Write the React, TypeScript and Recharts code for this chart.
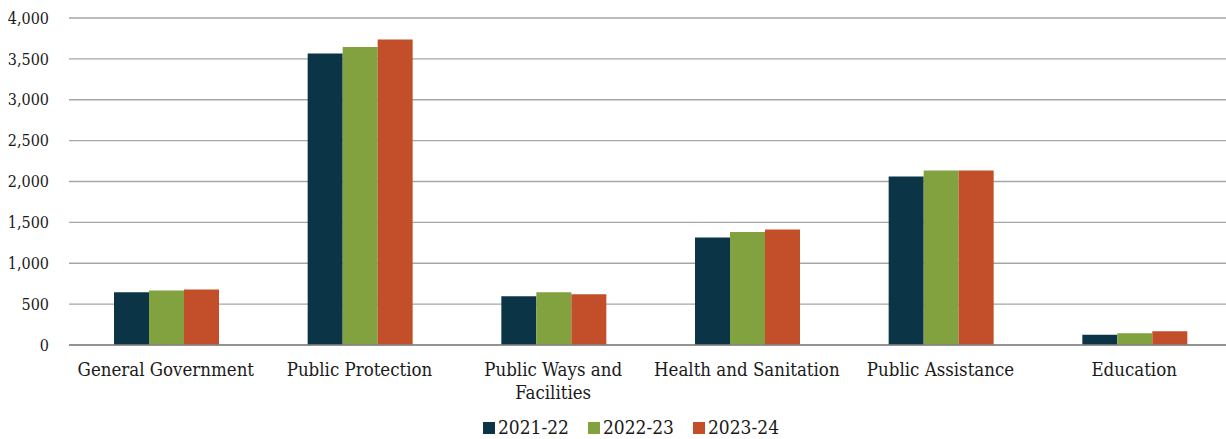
import React from "react";
import { BarChart, Bar, XAxis, YAxis, CartesianGrid, Legend } from "recharts";

const categories = [
  "General Government",
  "Public Protection",
  "Public Ways and Facilities",
  "Health and Sanitation",
  "Public Assistance",
  "Education",
];
const categoryLines = [
  ["General Government"],
  ["Public Protection"],
  ["Public Ways and", "Facilities"],
  ["Health and Sanitation"],
  ["Public Assistance"],
  ["Education"],
];
const fy2122 = [644, 3565, 595, 1316, 2062, 126];
const fy2223 = [668, 3646, 644, 1381, 2135, 143];
const fy2324 = [680, 3736, 620, 1414, 2135, 167];
const yTicks = [0, 500, 1000, 1500, 2000, 2500, 3000, 3500, 4000];
const seriesNames = ["2021-22", "2022-23", "2023-24"];
const colors = ["#0C3447", "#81A23F", "#C24F29"];

const data = categories.map((c, i) => ({
  name: c,
  a: fy2122[i],
  b: fy2223[i],
  c: fy2324[i],
}));

const XTick = (props: any) => {
  const { x, y, payload } = props;
  const idx = categories.indexOf(payload.value);
  const lines = idx >= 0 ? categoryLines[idx] : [payload.value];
  return (
    <text x={x} y={y + 23} textAnchor="middle" fontFamily="DejaVu Serif Condensed" fontSize={18.5} fill="#1a1a1a">
      {lines.map((l: string, i: number) => (
        <tspan key={i} x={x} dy={i === 0 ? 0 : 23}>
          {l}
        </tspan>
      ))}
    </text>
  );
};

const fmt = (v: number) => v.toLocaleString("en-US");

const LegendContent = (props: any) => {
  const { payload } = props;
  return (
    <div
      style={{
        display: "flex",
        justifyContent: "center",
        fontFamily: "DejaVu Serif",
        fontStretch: "condensed",
        fontSize: 19,
        color: "#1a1a1a",
        lineHeight: "20px",
        paddingTop: 10,
        paddingLeft: 31,
      }}
    >
      {payload.map((p: any, i: number) => (
        <div key={i} style={{ display: "flex", alignItems: "center", marginRight: i < payload.length - 1 ? 19 : 0 }}>
          <span style={{ width: 12, height: 12, background: p.color, display: "inline-block", marginRight: 3, marginTop: 2 }} />
          <span>{p.value}</span>
        </div>
      ))}
    </div>
  );
};

export default function App() {
  return (
    <div style={{ position: "absolute", left: 0, top: 0, width: 1226, height: 439, background: "#fff", overflow: "hidden" }}>
      <BarChart
        width={1226}
        height={439}
        data={data}
        margin={{ top: 18, right: -5, left: 0, bottom: 0 }}
        barCategoryGap={45}
        barGap={0}
      >
        <CartesianGrid vertical={false} stroke="#A6A6A6" strokeWidth={1.3} />
        <XAxis
          dataKey="name"
          tick={<XTick />}
          tickLine={false}
          axisLine={{ stroke: "#868686", strokeWidth: 1.3 }}
          height={62}
          interval={0}
        />
        <YAxis
          domain={[0, 4000]}
          ticks={yTicks}
          tickFormatter={fmt}
          tickLine={false}
          axisLine={false}
          width={69}
          tickMargin={14}
          tick={{ fontFamily: "DejaVu Serif Condensed", fontSize: 16, fill: "#1a1a1a" }}
          interval={0}
        />
        <Legend verticalAlign="bottom" height={32} content={<LegendContent />} />
        <Bar dataKey="a" name={seriesNames[0]} fill={colors[0]} isAnimationActive={false} />
        <Bar dataKey="b" name={seriesNames[1]} fill={colors[1]} isAnimationActive={false} />
        <Bar dataKey="c" name={seriesNames[2]} fill={colors[2]} isAnimationActive={false} />
      </BarChart>
    </div>
  );
}
